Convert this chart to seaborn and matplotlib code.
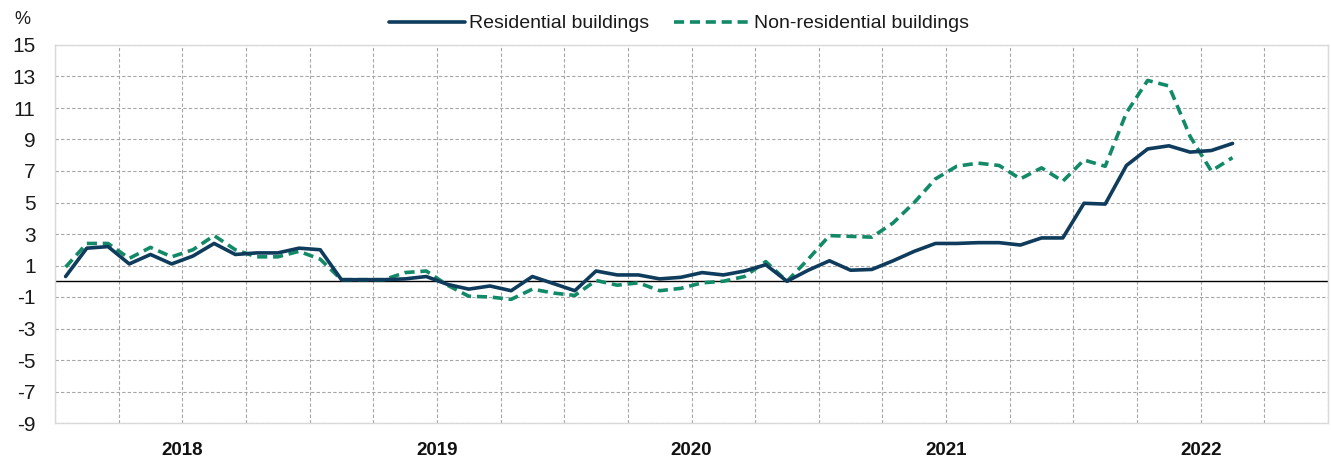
import numpy as np
import pandas as pd
import matplotlib
matplotlib.use("Agg")
import matplotlib.pyplot as plt
import seaborn as sns

# Monthly data, Jan 2018 - Aug 2022 (y/y %)
residential = [0.3, 2.1, 2.2, 1.1, 1.7, 1.1, 1.6, 2.4, 1.7, 1.8, 1.8, 2.1,
               2.0, 0.1, 0.1, 0.1, 0.15, 0.3, -0.2, -0.5, -0.3, -0.6, 0.3, -0.15,
               -0.6, 0.65, 0.4, 0.4, 0.15, 0.25, 0.55, 0.4, 0.65, 1.05, 0.0, 0.7,
               1.3, 0.7, 0.75, 1.3, 1.9, 2.4, 2.4, 2.45, 2.45, 2.3, 2.75, 2.75,
               4.95, 4.9, 7.35, 8.4, 8.6, 8.2, 8.3, 8.75]
non_residential = [0.9, 2.4, 2.4, 1.45, 2.15, 1.55, 2.0, 2.9, 2.0, 1.55, 1.55, 1.9,
                   1.4, 0.1, 0.1, 0.1, 0.55, 0.65, -0.25, -0.95, -1.0, -1.15, -0.5, -0.75,
                   -0.9, 0.05, -0.25, -0.1, -0.6, -0.45, -0.1, 0.0, 0.3, 1.25, 0.0, 1.4,
                   2.9, 2.85, 2.8, 3.7, 5.0, 6.5, 7.3, 7.5, 7.35, 6.5, 7.2, 6.35,
                   7.7, 7.3, 10.7, 12.75, 12.4, 9.2, 7.0, 7.85]
years = ["2018", "2019", "2020", "2021", "2022"]
series_names = ["Residential buildings", "Non-residential buildings"]
y_ticks = list(range(-9, 16, 2))

sns.set_style("white")
plt.rcParams['font.family'] = ['Liberation Sans Narrow', 'Liberation Sans', 'DejaVu Sans']

months = np.arange(len(residential))
df = pd.DataFrame({"month": months, series_names[0]: residential,
                   series_names[1]: non_residential})

fig = plt.figure(figsize=(13.31, 4.61), dpi=100)
ax = fig.add_axes([55/1331, 38/461, (1328-55)/1331, (423-45)/461])

col_res = "#0f3c5c"
col_non = "#128a68"

sns.lineplot(data=df, x="month", y=series_names[0], ax=ax, color=col_res,
             lw=2.6, label=series_names[0], zorder=4)
sns.lineplot(data=df, x="month", y=series_names[1], ax=ax, color=col_non,
             lw=2.6, dashes=False, label=series_names[1], zorder=3)
ax.lines[1].set_linestyle((0, (2.8, 1.6)))

n_months = 60
ax.set_xlim(-0.5, n_months - 0.5)
ax.set_ylim(-9, 15)
ax.set_yticks(y_ticks)
ax.set_yticklabels([str(v) for v in y_ticks], fontsize=15, color="#1a1a1a")

# vertical quarter gridlines
ax.set_xticks(np.arange(-0.5, n_months, 3), minor=False)
ax.set_xticklabels([])
ax.grid(True, which="major", axis="both", color="#a6a6a6", linestyle=(0, (3, 2)), lw=0.8)
ax.tick_params(axis="y", length=0, pad=14)
ax.tick_params(axis="x", length=0)
ax.axhline(0, color="black", lw=1.0, zorder=2)

for i, yr in enumerate(years):
    ax.text(5.5 + 12 * i, -0.05, yr, transform=ax.get_xaxis_transform(),
            ha="center", va="top", fontsize=13.5, fontweight="bold", color="#111111")

for s in ax.spines.values():
    s.set_color("#d9d9d9")
    s.set_linewidth(1.0)

ax.set_xlabel("")
ax.set_ylabel("")
fig.text(14/1331, 1 - 20/461, "%", fontsize=13, ha="left", va="center", color="#1a1a1a")

leg = ax.legend(loc="lower center", bbox_to_anchor=(0.49, 1.0), ncol=2, frameon=False,
                fontsize=14, handlelength=3.9, handletextpad=0.2, columnspacing=1.3,
                borderaxespad=0.25)
for t in leg.get_texts():
    t.set_color("#1a1a1a")

fig.savefig("out.png", dpi=100)
